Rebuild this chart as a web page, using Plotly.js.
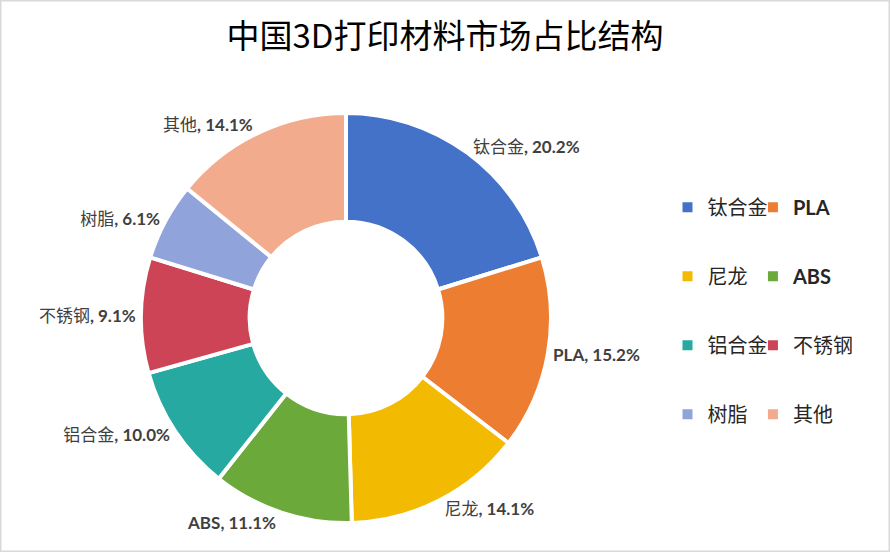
<!DOCTYPE html>
<html>
<head>
<meta charset="utf-8">
<script src="https://cdn.plot.ly/plotly-3.0.1.min.js"></script>
<style>html,body{margin:0;padding:0;background:#fff;}#chart{width:890px;height:552px;}</style>
</head>
<body>
<div id="chart"></div>
<script>
const labels = ['钛合金', 'PLA', '尼龙', 'ABS', '铝合金', '不锈钢', '树脂', '其他'];
const values = [20.2, 15.2, 14.1, 11.1, 10.0, 9.1, 6.1, 14.1];
const colors = ['#4472C8', '#ED7D31', '#F2BA00', '#6AA93A', '#26A9A0', '#CC4455', '#91A3DB', '#F2AB8C'];
const titleText = '中国3D打印材料市场占比结构';

const W = 890, H = 552;
const cx = 346, cy = 318, R = 205;

// Latin names are set in bold, CJK names in regular weight (as in the reference)
const styled = labels.map(l => /^[\x00-\x7F]+$/.test(l) ? '<b>' + l + '</b>' : l);

const pie = {
  type: 'pie',
  labels: labels,
  values: values,
  text: styled,
  sort: false,
  direction: 'clockwise',
  rotation: 0,
  hole: 0.47,
  marker: {colors: colors, line: {color: '#ffffff', width: 4}},
  texttemplate: '%{text}<b>, %{value:.1f}%</b>',
  textposition: 'outside',
  textfont: {family: 'Lato, "Noto Sans CJK SC", sans-serif', size: 17, color: '#404040'},
  showlegend: false,
  hoverinfo: 'label+value',
  domain: {x: [(cx - R) / W, (cx + R) / W], y: [1 - (cy + R) / H, 1 - (cy - R) / H]}
};

// legend entries (two columns) built from the same arrays
const legendTraces = labels.map((lab, i) => ({
  type: 'scatter',
  mode: 'markers',
  x: [null], y: [null],
  name: styled[i],
  marker: {symbol: 'square', size: 10, color: colors[i]},
  legend: i % 2 === 0 ? 'legend' : 'legend2',
  legendgroup: 'g' + i,
  showlegend: true,
  hoverinfo: 'skip'
}));

const legendCommon = {
  orientation: 'v',
  yanchor: 'top',
  xanchor: 'left',
  bgcolor: 'rgba(0,0,0,0)',
  itemwidth: 30,
  tracegroupgap: 40,
  font: {family: 'Lato, "Noto Sans CJK SC", sans-serif', size: 20, color: '#262626'},
  itemclick: false,
  itemdoubleclick: false
};

const layout = {
  width: W,
  height: H,
  margin: {l: 0, r: 0, t: 0, b: 0},
  paper_bgcolor: '#ffffff',
  plot_bgcolor: 'rgba(0,0,0,0)',
  title: {
    text: titleText,
    x: 0.5, xanchor: 'center',
    y: 1 - 36 / H, yanchor: 'middle',
    font: {family: '"Noto Sans CJK SC", sans-serif', size: 33, color: '#000000'}
  },
  xaxis: {visible: false},
  yaxis: {visible: false},
  legend: Object.assign({}, legendCommon, {x: 0.75, y: 0.66}),
  legend2: Object.assign({}, legendCommon, {x: 0.846, y: 0.66}),
  shapes: [{
    type: 'rect', xref: 'paper', yref: 'paper', x0: 0, x1: 1, y0: 0, y1: 1,
    line: {color: '#D9D9D9', width: 3}, fillcolor: 'rgba(0,0,0,0)', layer: 'above'
  }]
};

Plotly.newPlot('chart', [pie].concat(legendTraces), layout, {displayModeBar: false, staticPlot: true});
</script>
</body>
</html>
